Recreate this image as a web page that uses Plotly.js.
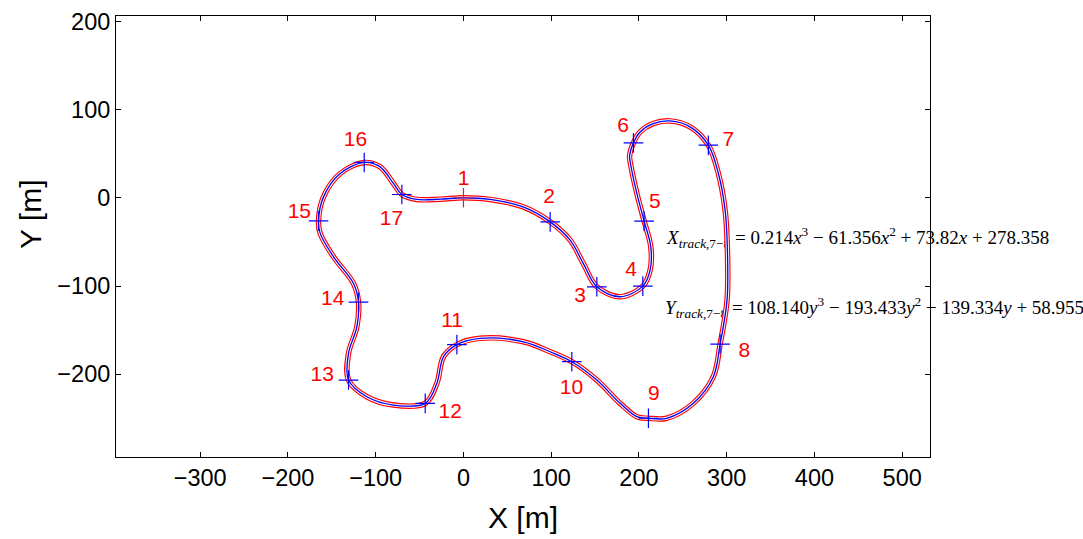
<!DOCTYPE html>
<html>
<head>
<meta charset="utf-8">
<script src="https://cdn.plot.ly/plotly-3.0.1.min.js"></script>
<style>html,body{margin:0;padding:0;background:#fff;}#plot{width:1083px;height:539px;}</style>
</head>
<body>
<div id="plot"></div>
<script>
// Track centreline (m), closed loop starting at waypoint 1
const trackX = [0, 30.4, 68.0, 98.8, 121.6, 136.4, 152.0, 178.5, 204.4, 212.7, 213.5, 205.9, 197.6, 190.5,
  189.3, 193.7, 201.3, 216.1, 235.5, 258.3, 279.1, 290.5, 298.2, 300.8, 300.4, 292.5, 284.8, 262.0,
  231.7, 210.8, 197.6, 178.5, 152.0, 123.5, 98.8, 68.4, 19.0, -7.5, -22.8, -30.3, -43.6, -79.8,
  -110.1, -131.0, -131.0, -121.5, -119.6, -125.3, -148.1, -163.3, -165.2, -159.5, -140.5, -113.1,
  -95.0, -79.8, -70.2, -53.1, -26.5, 0];
const trackY = [0, -1.9, -10.3, -27.3, -48.0, -74.1, -100.9, -112.2, -100.1, -82.0, -55.6, -26.5, 4.9, 38.0,
  47.0, 62.2, 74.6, 84.1, 87.1, 80.3, 59.6, 27.5, -14.0, -59.3, -116.0, -165.8, -202.8, -232.9,
  -249.9, -249.9, -248.1, -233.0, -206.6, -185.8, -174.5, -163.2, -159.3, -166.4, -180.2, -210.3, -233.0, -234.9,
  -225.5, -206.6, -176.3, -146.2, -118.2, -97.1, -66.9, -40.4, -26.2, 1.0, 27.5, 40.0,
  35.0, 16.2, 3.7, -1.9, -1.6, 0];

// Waypoints
const wpNames = ['1','2','3','4','5','6','7','8','9','10','11','12','13','14','15','16','17'];
const wpX = [0, 98.8, 152.0, 204.4, 205.9, 193.7, 279.1, 292.5, 210.8, 123.5, -7.5, -43.6, -131.0, -119.6, -165.2, -113.1, -70.2];
const wpY = [0, -27.3, -100.9, -100.1, -26.5, 62.2, 59.6, -165.8, -249.9, -185.8, -166.4, -233.0, -206.6, -118.2, -26.2, 40.0, 3.7];

// Waypoint label anchor points (m)
const labelX = [0, 97.7, 133, 191, 218, 182, 302, 320, 217, 123, -13, -15, -161, -149, -187, -123, -82];
const labelY = [20.5, -0.5, -112, -83, -6, 81, 65, -174, -223, -216, -141, -244, -202, -116, -17, 65, -25];

// Equations for segment 7-8
const eqTexts = [
  '<i>X</i><sub><i>track</i>,7−8</sub> = 0.214<i>x</i><sup>3</sup> − 61.356<i>x</i><sup>2</sup> + 73.82<i>x</i> + 278.358',
  '<i>Y</i><sub><i>track</i>,7−8</sub> = 108.140<i>y</i><sup>3</sup> − 193.433<i>y</i><sup>2</sup> − 139.334<i>y</i> + 58.955'
];
const eqX = [232.1, 229.8];
const eqY = [-47, -126.5];

const xTicks = [-300, -200, -100, 0, 100, 200, 300, 400, 500];
const yTicks = [-200, -100, 0, 100, 200];

const wpColors = wpNames.map((n, i) => i === 0 ? '#b0305c' : '#0000ff');

const traces = [
  {x: eqX, y: eqY, mode: 'text', text: eqTexts, textposition: 'middle right', cliponaxis: false,
   textfont: {family: 'Liberation Serif, serif', size: 19, color: '#000'}, hoverinfo: 'skip', showlegend: false},
  {x: trackX, y: trackY, mode: 'lines', line: {color: '#ff0000', width: 5.5, shape: 'spline', smoothing: 1}, hoverinfo: 'skip', showlegend: false},
  {x: trackX, y: trackY, mode: 'lines', line: {color: '#ffffff', width: 3.2, shape: 'spline', smoothing: 1}, hoverinfo: 'skip', showlegend: false},
  {x: trackX, y: trackY, mode: 'lines', line: {color: '#0000ff', width: 1.3, shape: 'spline', smoothing: 1}, hoverinfo: 'skip', showlegend: false},
  {x: wpX, y: wpY, mode: 'markers', marker: {symbol: 'cross-thin-open', size: 14, color: wpColors, line: {color: wpColors, width: 1.2}}, showlegend: false},
  {x: labelX, y: labelY, mode: 'text', text: wpNames, textposition: 'middle center', cliponaxis: false,
   textfont: {family: 'Liberation Sans, Arial, sans-serif', size: 21, color: '#ff0000'}, hoverinfo: 'skip', showlegend: false}
];

const axisCommon = {
  showgrid: false, zeroline: false, showline: true, linecolor: '#000', linewidth: 1,
  mirror: 'ticks', ticks: 'inside', ticklen: 5, tickwidth: 1, tickcolor: '#000',
  tickfont: {family: 'Liberation Sans, Arial, sans-serif', size: 23.5, color: '#000'},
  tickmode: 'array'
};

const layout = {
  width: 1083, height: 539,
  margin: {l: 116, r: 153, t: 16, b: 82},
  paper_bgcolor: '#fff', plot_bgcolor: '#fff',
  xaxis: Object.assign({}, axisCommon, {range: [-396, 531.7], tickvals: xTicks,
    title: {text: 'X [m]', font: {family: 'Liberation Sans, Arial, sans-serif', size: 30, color: '#000'}, standoff: 16}}),
  yaxis: Object.assign({}, axisCommon, {range: [-293.8, 206], tickvals: yTicks}),
  annotations: [
    {xref: 'paper', yref: 'paper', x: -0.105, y: 0.55, text: 'Y [m]', textangle: -90, showarrow: false,
     xanchor: 'center', yanchor: 'middle',
     font: {family: 'Liberation Sans, Arial, sans-serif', size: 30, color: '#000'}}
  ]
};

Plotly.newPlot('plot', traces, layout, {displayModeBar: false, staticPlot: true});
</script>
</body>
</html>
